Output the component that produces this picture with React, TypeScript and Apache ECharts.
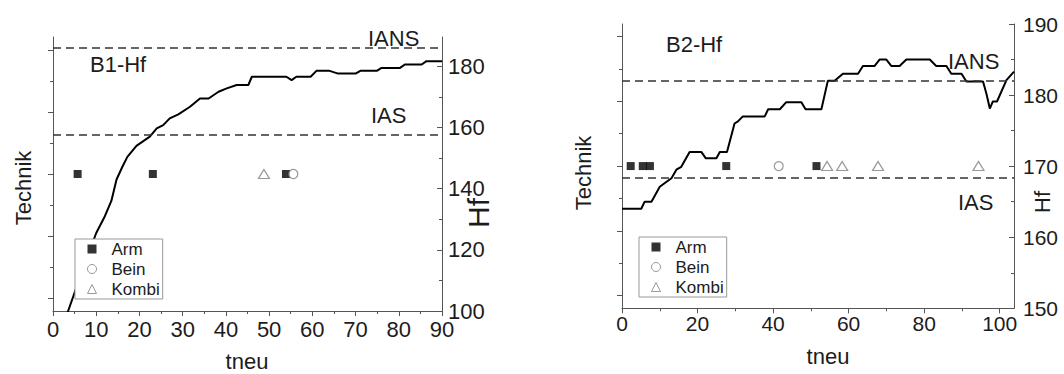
import React, { useEffect, useRef } from "react";
import * as echarts from "echarts";

const FONT = "'Liberation Sans', Arial, Helvetica, sans-serif";
const AX = "#555";
const TXT = "#1c1c1c";

// ---------- Chart B1 ----------
const b1Time = [2, 3.5, 5, 7.5, 10, 12, 13.5, 14.7, 16, 17.2, 19.3, 22.4, 24, 25.5, 27, 29, 31.7, 34, 36, 38.3, 40.2, 42.5, 45.2, 46, 54, 55.2, 56.3, 59.6, 61, 63.8, 65.8, 70.1, 71.2, 75, 76, 80.3, 81.4, 85.3, 86.4, 90];
const b1Hf = [94, 100, 106, 116, 125.5, 131, 136, 143, 147, 150.4, 154, 157, 159.7, 160.8, 163, 164.3, 166.8, 169.5, 169.5, 171.7, 172.8, 173.9, 173.9, 176.6, 176.6, 175.5, 176.6, 176.6, 178.6, 178.6, 177.7, 177.7, 178.6, 178.6, 179.5, 179.5, 180.6, 180.6, 181.7, 181.7];
const b1Thresholds = { IANS: 186.2, IAS: 157.7 };
const b1Arm = [5.7, 23.1, 53.9];
const b1Bein = [55.6];
const b1Kombi = [48.8];

// ---------- Chart B2 ----------
const b2Time = [0, 5.1, 6, 7.8, 10, 11.8, 13.1, 14.4, 15.7, 17.9, 21, 22.2, 25, 25.9, 27.8, 29.8, 30.7, 32, 37.8, 38.7, 41.8, 43.5, 47.5, 48.6, 52.8, 54.5, 56.3, 58.5, 62.5, 63.8, 66.9, 68.2, 70, 71.3, 73.5, 75.3, 81.5, 83.2, 85.9, 87.2, 89.9, 91.2, 95.6, 96.5, 97.4, 98.2, 99.3, 101.8, 103.8];
const b2Hf = [164, 164, 165, 165, 167.1, 167.8, 168.3, 169.5, 169.9, 172, 172, 171.1, 171.1, 172, 172, 176, 176.3, 177, 177, 178, 178, 179, 179, 178, 178, 182, 182, 183, 183, 184.1, 184.1, 185, 185, 184.1, 184.1, 185, 185, 184.1, 184.1, 183, 183, 181.9, 181.9, 180.2, 178.1, 179.1, 179.1, 182.1, 183.3];
const b2Thresholds = { IANS: 182.0, IAS: 168.4 };
const b2Arm = [2.3, 5.5, 7.4, 27.6, 51.5];
const b2Bein = [41.5];
const b2Kombi = [54.3, 58.3, 67.8, 94.4];

// Technik level at which the technique markers sit
const TECH_LEVEL = 4;
const techMajor = [0, 2, 4, 6, 8];
const techMinor = [1, 3, 5, 7];
const b1HfTicks = [100, 120, 140, 160, 180];
const b1HfMinor = [110, 130, 150, 170];
const b2TimeTicks = [0, 20, 40, 60, 80, 100];
const b2TimeMinor = [10, 30, 50, 70, 90];

const zip = (xs: number[], ys: number[]) => xs.map((x, i) => [x, ys[i]]);
const atTech = (xs: number[]) => xs.map((x) => [x, TECH_LEVEL]);

const lineStyleAx = { color: AX, width: 1 };

function majorAxis(o: any) {
  return {
    type: "value",
    splitLine: { show: false },
    axisLine: { show: true, onZero: false, lineStyle: lineStyleAx },
    axisTick: { show: true, length: 5, lineStyle: lineStyleAx, ...(o.tick || {}) },
    axisLabel: o.label ? { show: true, color: TXT, fontFamily: FONT, ...o.label } : { show: false },
    minorTick: o.minor ? { show: true, splitNumber: 2, length: 3, lineStyle: lineStyleAx } : { show: false },
    ...o.base,
  };
}
function minorAxis(o: any) {
  return {
    type: "value",
    splitLine: { show: false },
    axisLine: { show: false, onZero: false },
    axisTick: { show: true, length: 3, lineStyle: lineStyleAx, ...(o.tick || {}) },
    axisLabel: { show: false },
    ...o.base,
  };
}

const thresholdLines = (t: { IANS: number; IAS: number }) => ({
  silent: true,
  symbol: ["none", "none"],
  label: { show: false },
  lineStyle: { type: [8, 5], color: "#333", width: 1.5 },
  data: [{ yAxis: t.IANS }, { yAxis: t.IAS }],
});

const markerSeries = (name: string, data: number[][], xi: number, yi: number) => {
  const common: any = { type: "scatter", name, data, xAxisIndex: xi, yAxisIndex: yi, z: 3 };
  if (name === "Arm") return { ...common, symbol: "rect", symbolSize: 8, itemStyle: { color: "#000" } };
  if (name === "Bein") return { ...common, symbol: "circle", symbolSize: 9, itemStyle: { color: "#fff", borderColor: "#808080", borderWidth: 1.2 } };
  return { ...common, symbol: "triangle", symbolSize: [11, 9], itemStyle: { color: "#fff", borderColor: "#808080", borderWidth: 1.2 } };
};

const legendBox = (left: number, top: number) => ({
  orient: "vertical",
  left,
  top,
  data: ["Arm", "Bein", "Kombi"],
  itemWidth: 9,
  itemHeight: 9,
  itemGap: 0,
  padding: [0, 3, 0, 12],
  borderColor: "#999",
  borderWidth: 1,
  backgroundColor: "#fff",
  itemStyle: { borderWidth: 1 },
  textStyle: { fontSize: 17, fontFamily: FONT, color: TXT, lineHeight: 20, padding: [0, 0, 0, 10] },
  selectedMode: false,
});

const txt = (text: string, x: number, y: number, size: number, opts: any = {}) => ({
  type: "text",
  x,
  y,
  rotation: opts.rotate ? Math.PI / 2 : 0,
  silent: true,
  style: {
    text,
    fill: TXT,
    font: `${size}px ${FONT}`,
    align: opts.align || "left",
    verticalAlign: "middle",
  },
});

const option: any = {
  animation: false,
  backgroundColor: "#fff",
  grid: [
    { left: 53, top: 37, width: 389, height: 274 },
    { left: 622, top: 24, width: 392, height: 284.3 },
  ],
  xAxis: [
    majorAxis({ base: { gridIndex: 0, min: 0, max: 90, interval: 10, position: "bottom" }, label: { fontSize: 22, margin: 7 }, minor: true }),
    majorAxis({ base: { gridIndex: 1, min: 0, max: 103.8, position: "bottom" }, tick: { customValues: b2TimeTicks }, label: { fontSize: 21, margin: 5, customValues: b2TimeTicks } }),
    minorAxis({ base: { gridIndex: 1, min: 0, max: 103.8, position: "bottom" }, tick: { customValues: b2TimeMinor } }),
  ],
  yAxis: [
    majorAxis({ base: { gridIndex: 0, min: -0.42, max: 8.42, position: "left" }, tick: { customValues: techMajor } }),
    minorAxis({ base: { gridIndex: 0, min: -0.42, max: 8.42, position: "left" }, tick: { customValues: techMinor } }),
    majorAxis({ base: { gridIndex: 0, min: 100, max: 189.6, position: "right" }, tick: { inside: true, customValues: b1HfTicks }, label: { fontSize: 22, margin: 6, customValues: b1HfTicks } }),
    minorAxis({ base: { gridIndex: 0, min: 100, max: 189.6, position: "right" }, tick: { inside: true, customValues: b1HfMinor } }),
    majorAxis({ base: { gridIndex: 1, min: -0.39, max: 8.385, position: "left" }, tick: { customValues: techMajor } }),
    minorAxis({ base: { gridIndex: 1, min: -0.39, max: 8.385, position: "left" }, tick: { customValues: techMinor } }),
    majorAxis({ base: { gridIndex: 1, min: 150, max: 190, interval: 10, position: "right" }, tick: { inside: true }, label: { fontSize: 21, margin: 9 }, minor: true }),
  ],
  legend: [legendBox(75, 239), legendBox(639, 237)],
  series: [
    {
      type: "line",
      name: "B1-Hf",
      xAxisIndex: 0,
      yAxisIndex: 2,
      data: zip(b1Time, b1Hf),
      showSymbol: false,
      symbol: "none",
      clip: true,
      lineStyle: { color: "#000", width: 2 },
      itemStyle: { color: "#000" },
      markLine: thresholdLines(b1Thresholds),
    },
    markerSeries("Arm", atTech(b1Arm), 0, 0),
    markerSeries("Kombi", atTech(b1Kombi), 0, 0),
    markerSeries("Bein", atTech(b1Bein), 0, 0),
    {
      type: "line",
      name: "B2-Hf",
      xAxisIndex: 1,
      yAxisIndex: 6,
      data: zip(b2Time, b2Hf),
      showSymbol: false,
      symbol: "none",
      clip: true,
      lineStyle: { color: "#000", width: 2 },
      itemStyle: { color: "#000" },
      markLine: thresholdLines(b2Thresholds),
    },
    markerSeries("Arm", atTech(b2Arm), 1, 4),
    markerSeries("Bein", atTech(b2Bein), 1, 4),
    markerSeries("Kombi", atTech(b2Kombi), 1, 4),
  ],
  graphic: [
    txt("B1-Hf", 90, 64, 22),
    txt("IANS", 368, 38, 22),
    txt("IAS", 371, 115, 22),
    txt("Technik", 23, 188, 22, { rotate: true, align: "center" }),
    txt("Hf", 478, 213, 30, { rotate: true, align: "center" }),
    txt("tneu", 247, 361, 22, { align: "center" }),
    txt("B2-Hf", 666, 44, 22),
    txt("IANS", 948, 61, 22),
    txt("IAS", 958, 202, 22),
    txt("Technik", 583, 173, 22, { rotate: true, align: "center" }),
    txt("Hf", 1042, 202, 22, { rotate: true, align: "center" }),
    txt("tneu", 828, 356, 22, { align: "center" }),
  ],
};

export default function App() {
  const ref = useRef<HTMLDivElement>(null);
  useEffect(() => {
    if (!ref.current) return;
    const chart = echarts.init(ref.current, null, { renderer: "svg" });
    chart.setOption(option);
    return () => chart.dispose();
  }, []);
  return (
    <div
      ref={ref}
      style={{ position: "fixed", left: 0, top: 0, width: 1064, height: 374, background: "#fff" }}
    />
  );
}
